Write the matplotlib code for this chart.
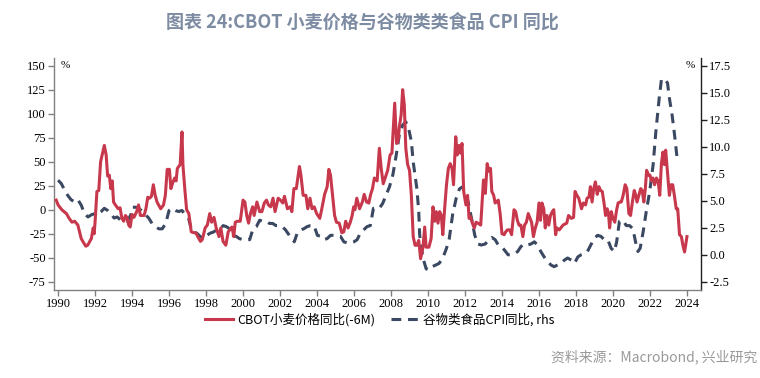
import matplotlib
matplotlib.use("Agg")
import matplotlib.pyplot as plt
from matplotlib.ticker import FixedLocator

plt.rcParams['font.family'] = ['Noto Sans CJK SC', 'DejaVu Sans']

title = "图表 24:CBOT 小麦价格与谷物类类食品 CPI 同比"
source = "资料来源：Macrobond, 兴业研究"
label_wheat = "CBOT小麦价格同比(-6M)"
label_cpi = "谷物类食品CPI同比, rhs"

wheat_t = [1989.9, 1990.0, 1990.2, 1990.45, 1990.6, 1990.75, 1990.9, 1991.07, 1991.25, 1991.4,
           1991.5, 1991.6, 1991.8, 1991.9, 1991.95, 1992.0, 1992.1, 1992.2, 1992.3, 1992.5,
           1992.6, 1992.68, 1992.77, 1992.85, 1992.93, 1993.0, 1993.1, 1993.25, 1993.35, 1993.45,
           1993.55, 1993.64, 1993.73, 1993.82, 1993.9, 1994.0, 1994.1, 1994.25, 1994.35, 1994.45,
           1994.65, 1994.75, 1994.85, 1994.95, 1995.05, 1995.15, 1995.25, 1995.35, 1995.55, 1995.7,
           1995.8, 1995.9, 1996.02, 1996.1, 1996.2, 1996.3, 1996.38, 1996.45, 1996.6, 1996.7,
           1996.75, 1996.85, 1996.95, 1997.07, 1997.2, 1997.35, 1997.45, 1997.55, 1997.7, 1997.8,
           1997.95, 1998.07, 1998.2, 1998.3, 1998.43, 1998.55, 1998.7, 1998.8, 1998.92, 1999.07,
           1999.2, 1999.4, 1999.5, 1999.58, 1999.7, 1999.85, 2000.0, 2000.1, 2000.2, 2000.3,
           2000.4, 2000.52, 2000.6, 2000.75, 2000.9, 2001.02, 2001.15, 2001.27, 2001.37, 2001.5,
           2001.62, 2001.73, 2001.9, 2002.02, 2002.15, 2002.24, 2002.4, 2002.55, 2002.64, 2002.75,
           2002.88, 2003.05, 2003.13, 2003.25, 2003.4, 2003.5, 2003.62, 2003.73, 2003.85, 2003.98,
           2004.15, 2004.26, 2004.41, 2004.55, 2004.64, 2004.73, 2004.82, 2004.95, 2005.05, 2005.2,
           2005.34, 2005.45, 2005.55, 2005.68, 2005.8, 2005.9, 2005.98, 2006.05, 2006.15, 2006.3,
           2006.45, 2006.55, 2006.68, 2006.8, 2006.9, 2007.0, 2007.1, 2007.25, 2007.37, 2007.47,
           2007.58, 2007.7, 2007.82, 2007.95, 2008.05, 2008.2, 2008.3, 2008.38, 2008.45, 2008.55,
           2008.63, 2008.72, 2008.8, 2008.9, 2009.0, 2009.1, 2009.2, 2009.3, 2009.4, 2009.5,
           2009.6, 2009.73, 2009.82, 2009.9, 2010.05, 2010.17, 2010.27, 2010.36, 2010.45, 2010.54,
           2010.63, 2010.72, 2010.8, 2010.9, 2011.0, 2011.1, 2011.2, 2011.3, 2011.38, 2011.5,
           2011.58, 2011.67, 2011.75, 2011.84, 2011.93, 2012.05, 2012.14, 2012.22, 2012.3, 2012.4,
           2012.5, 2012.6, 2012.7, 2012.85, 2013.0, 2013.1, 2013.2, 2013.3, 2013.38, 2013.45,
           2013.55, 2013.63, 2013.7, 2013.8, 2013.9, 2014.0, 2014.12, 2014.2, 2014.3, 2014.42,
           2014.52, 2014.65, 2014.74, 2014.83, 2014.92, 2015.02, 2015.13, 2015.22, 2015.32, 2015.42,
           2015.52, 2015.6, 2015.7, 2015.8, 2015.9, 2016.0, 2016.08, 2016.16, 2016.26, 2016.34,
           2016.43, 2016.53, 2016.62, 2016.72, 2016.8, 2016.9, 2016.97, 2017.1, 2017.3, 2017.5,
           2017.6, 2017.75, 2017.87, 2017.95, 2018.05, 2018.15, 2018.3, 2018.4, 2018.52, 2018.6,
           2018.7, 2018.78, 2018.87, 2018.96, 2019.05, 2019.15, 2019.24, 2019.33, 2019.42, 2019.51,
           2019.6, 2019.69, 2019.76, 2019.82, 2019.91, 2020.0, 2020.1, 2020.2, 2020.28, 2020.37,
           2020.45, 2020.55, 2020.66, 2020.75, 2020.86, 2020.95, 2021.05, 2021.15, 2021.22, 2021.3,
           2021.4, 2021.5, 2021.58, 2021.67, 2021.75, 2021.82, 2021.92, 2022.0, 2022.08, 2022.16,
           2022.25, 2022.35, 2022.44, 2022.53, 2022.62, 2022.7, 2022.78, 2022.85, 2022.95, 2023.05,
           2023.14, 2023.23, 2023.32, 2023.42, 2023.5, 2023.6, 2023.7, 2023.78, 2023.87, 2023.93,
           2024.0]
wheat_v = [10, 5, 0, -4, -9, -13, -12, -16, -30, -35,
           -38, -37, -30, -19, -25, -13, 19, 20, 50, 67,
           57, 35, 36, 22, 30, 8, 5, 1, 2, -9,
           -12, -6, -8, -16, -18, -5, -8, -2, 5, -6,
           -6, 1, 13, 12, 14, 26, 15, 8, 1, 5,
           15, 42, 42, 22, 28, 33, 30, 43, 47, 81,
           47, 22, 0, -4, -23, -24, -24, -28, -33, -31,
           -19, -16, -4, -13, -8, -19, -28, -19, -33, -37,
           -23, -18, -28, -13, -12, -12, 10, 8, -6, -14,
           -4, 3, -6, 8, -2, -2, 7, 10, 5, 3,
           12, -2, 12, 10, 7, 14, 1, 3, -2, 22,
           22, 45, 36, 15, 15, 1, 12, 1, 3, -4,
           -9, 1, 16, 24, 42, 36, 19, -6, -13, -14,
           -24, -23, -12, -19, -13, -6, 3, 0, 12, 1,
           8, 16, 8, 7, 16, 22, 33, 30, 64, 43,
           27, 34, 41, 57, 59, 111, 69, 71, 86, 99,
           125, 109, 64, 47, 41, 15, -28, -37, -37, -32,
           -51, -39, -18, -39, -39, -30, 3, -12, -2, -14,
           -2, -6, -26, 1, 26, 43, 48, 43, 26, 76,
           57, 67, 59, 69, 19, 5, 15, -9, -7, -14,
           -19, -13, -14, -16, 31, 17, 48, 40, 43, 19,
           15, 7, 8, 10, -4, -25, -26, -23, -21, -21,
           -26, 0, -2, -11, -16, -16, -28, -16, -13, -4,
           -9, -13, -28, -19, -13, 7, -11, 7, 1, -19,
           -6, -16, -6, -2, 0, -26, -19, -21, -16, -14,
           -6, -9, -8, 19, 15, 12, 1, 7, 5, 12,
           13, 24, 8, 22, 29, 16, 24, 20, 19, 8,
           -6, 1, -4, -19, -2, -9, -13, 0, 7, 8,
           8, 15, 26, 22, -4, -6, 8, 20, 16, 8,
           15, 22, 20, 8, 22, 41, 36, 36, 30, 33,
           26, 33, 30, 15, 48, 60, 47, 62, 38, 15,
           26, 26, 15, 1, 1, -26, -28, -37, -44, -37,
           -28]

cpi_t = [1990.0, 1990.17, 1990.35, 1990.52, 1990.7, 1990.88, 1991.07, 1991.25, 1991.43, 1991.62,
         1991.8, 1991.97, 1992.15, 1992.33, 1992.5, 1992.68, 1992.85, 1993.03, 1993.2, 1993.38,
         1993.57, 1993.75, 1993.93, 1994.02, 1994.2, 1994.37, 1994.55, 1994.73, 1994.9, 1995.08,
         1995.27, 1995.45, 1995.63, 1995.82, 1996.0, 1996.17, 1996.35, 1996.52, 1996.7, 1996.88,
         1997.05, 1997.2, 1997.32, 1997.5, 1997.68, 1997.87, 1998.05, 1998.22, 1998.4, 1998.57,
         1998.75, 1998.93, 1999.1, 1999.28, 1999.46, 1999.63, 1999.8, 1999.98, 2000.18, 2000.36,
         2000.54, 2000.72, 2000.9, 2001.07, 2001.25, 2001.43, 2001.6, 2001.78, 2001.95, 2002.12,
         2002.3, 2002.5, 2002.77, 2002.93, 2003.1, 2003.28, 2003.46, 2003.64, 2003.84, 2004.02,
         2004.2, 2004.37, 2004.55, 2004.73, 2004.9, 2005.08, 2005.27, 2005.45, 2005.63, 2005.82,
         2006.0, 2006.17, 2006.34, 2006.52, 2006.7, 2006.88, 2007.05, 2007.2, 2007.37, 2007.55,
         2007.73, 2007.92, 2008.1, 2008.28, 2008.45, 2008.63, 2008.8, 2008.95, 2009.1, 2009.2,
         2009.4, 2009.5, 2009.55, 2009.73, 2009.9, 2010.05, 2010.23, 2010.42, 2010.6, 2010.8,
         2011.0, 2011.15, 2011.33, 2011.52, 2011.7, 2011.88, 2012.04, 2012.17, 2012.35, 2012.53,
         2012.7, 2012.88, 2013.1, 2013.27, 2013.45, 2013.63, 2013.8, 2013.98, 2014.15, 2014.33,
         2014.5, 2014.67, 2014.85, 2015.02, 2015.2, 2015.38, 2015.57, 2015.75, 2015.92, 2016.1,
         2016.28, 2016.46, 2016.65, 2016.82, 2017.0, 2017.18, 2017.37, 2017.55, 2017.75, 2017.92,
         2018.1, 2018.28, 2018.45, 2018.62, 2018.8, 2018.98, 2019.17, 2019.35, 2019.53, 2019.72,
         2019.9, 2020.08, 2020.2, 2020.35, 2020.54, 2020.72, 2020.9, 2021.08, 2021.22, 2021.35,
         2021.47, 2021.63, 2021.8, 2021.98, 2022.17, 2022.32, 2022.5, 2022.62, 2022.78, 2022.95,
         2023.05, 2023.2, 2023.33, 2023.47]
cpi_v = [6.9, 6.6, 6.0, 5.5, 5.1, 4.9, 5.1, 4.6, 3.8, 3.5,
         3.7, 3.8, 3.8, 4.0, 4.3, 4.1, 3.8, 3.4, 3.5, 3.2,
         3.1, 3.1, 3.7, 4.4, 4.4, 4.3, 4.0, 3.7, 3.4, 2.9,
         2.6, 2.4, 2.4, 2.9, 4.1, 4.3, 4.1, 4.0, 4.1, 3.7,
         3.4, 2.4, 2.1, 2.0, 1.7, 1.5, 1.8, 2.0, 2.1, 2.3,
         2.4, 2.7, 2.6, 2.4, 1.8, 1.7, 1.5, 1.4, 1.4, 1.4,
         2.4, 2.6, 3.2, 3.1, 3.1, 2.9, 2.9, 2.7, 2.7, 2.6,
         2.3, 1.8, 1.2, 2.0, 2.3, 2.4, 2.6, 2.7, 2.7, 1.8,
         1.7, 1.4, 1.5, 1.8, 1.8, 1.7, 1.7, 1.2, 1.1, 1.1,
         1.2, 1.4, 2.0, 2.3, 2.6, 2.7, 4.3, 4.3, 4.3, 4.75,
         5.5, 6.3, 7.4, 9.2, 11.1, 12.0, 12.3, 11.7, 10.5, 8.6,
         6.1, 4.0, 1.8, -0.3, -1.3, -1.4, -1.1, -0.95, -0.8, -0.3,
         0.6, 1.5, 3.7, 5.2, 6.1, 6.3, 5.5, 4.9, 3.4, 1.8,
         1.0, 0.9, 1.0, 1.4, 1.6, 1.4, 0.9, 0.75, 0.4, 0.0,
         0.0, 0.1, 0.3, 0.75, 1.0, 0.9, 1.0, 1.2, 0.9, 0.3,
         -0.2, -0.6, -0.95, -1.1, -0.95, -0.8, -0.5, -0.3, -0.5, -0.8,
         -0.2, 0.0, 0.1, 0.3, 0.9, 1.5, 1.8, 1.7, 1.4, 1.4,
         0.6, 0.3, 1.2, 3.1, 3.2, 2.7, 2.7, 2.4, 1.2, 0.3,
         0.6, 2.1, 4.0, 5.8, 8.3, 11.4, 14.5, 16.2, 16.3, 15.9,
         14.5, 12.9, 11.1, 8.9]

left_ticks = [-75, -50, -25, 0, 25, 50, 75, 100, 125, 150]
right_ticks = [-2.5, 0.0, 2.5, 5.0, 7.5, 10.0, 12.5, 15.0, 17.5]
year_ticks = list(range(1990, 2025, 2))

red = '#c8384c'
navy = '#3b4861'
serif = ['Liberation Serif', 'DejaVu Serif']

fig = plt.figure(figsize=(7.6, 3.78), dpi=100)
ax = fig.add_axes([54/760, 1-290/378, (701-54)/760, (290-58)/378])
ax2 = ax.twinx()

l1, = ax.plot(wheat_t, wheat_v, color=red, lw=2.2, zorder=3)
l2, = ax2.plot(cpi_t, cpi_v, color=navy, lw=2.2, dashes=(3.2, 2.2), zorder=2)
ax.set_zorder(ax2.get_zorder() + 1)
ax.patch.set_visible(False)

ax.set_xlim(1989.78, 2024.76)
ax.set_ylim(-83.6, 158.0)
ax2.set_ylim(-3.26, 18.21)
ax.yaxis.set_major_locator(FixedLocator(left_ticks))
ax2.yaxis.set_major_locator(FixedLocator(right_ticks))
ax.set_xticks(year_ticks)
ax.set_xticklabels([str(y) for y in year_ticks], family=serif, fontsize=9)
ax.set_yticklabels([str(v) for v in left_ticks], family=serif, fontsize=9)
ax2.set_yticklabels([f"{v:.1f}" for v in right_ticks], family=serif, fontsize=9)

for a in (ax, ax2):
    a.spines['top'].set_visible(False)
ax.spines['left'].set_color('#808080')
ax.spines['bottom'].set_color('#808080')
ax.spines['right'].set_visible(False)
ax2.spines['left'].set_visible(False)
ax2.spines['bottom'].set_visible(False)
ax2.spines['right'].set_color('#202020')
for s in ('left', 'bottom'):
    ax.spines[s].set_linewidth(1.0)
ax2.spines['right'].set_linewidth(1.0)
ax.tick_params(axis='both', direction='out', length=4, width=1, color='#808080', pad=2)
ax2.tick_params(axis='y', direction='out', length=4, width=1, color='#202020', pad=2)

fig.text(61/760, 1-65/378, '%', fontsize=8, family=serif, va='center', ha='left')
fig.text(690/760, 1-65/378, '%', fontsize=8, family=serif, va='center', ha='center')

fig.text(362/760, 1-22/378, title, fontsize=13, fontweight='bold', color='#7d8ca3',
         ha='center', va='center')
fig.text(757/760, 1-357/378, source, fontsize=10, color='#9a9a9a', ha='right', va='center')

fig.legend([l1, l2], [label_wheat, label_cpi], loc='center', bbox_to_anchor=(380/760, 1-320/378),
           ncol=2, frameon=False, fontsize=9, handlelength=2.2, columnspacing=1.2,
           handletextpad=0.4)

fig.savefig('out.png', dpi=100)
